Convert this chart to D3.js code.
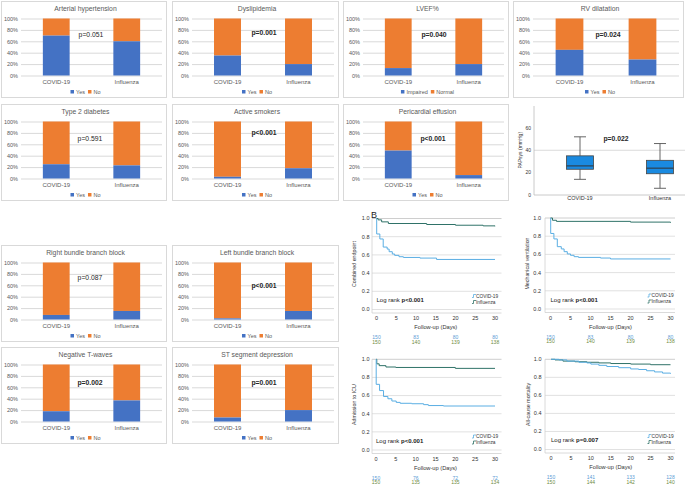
<!DOCTYPE html>
<html><head><meta charset="utf-8">
<script src="https://cdn.jsdelivr.net/npm/d3@7"></script>
<style>
body{margin:0;background:#fff}
svg{display:block}
text{font-family:"Liberation Sans",Arial,sans-serif}
</style>
</head><body>
<svg id="c" width="685" height="487"></svg>
<script>
// ---------------- DATA ----------------
const barCategories = ["COVID-19", "Influenza"];
const barTitles = ["Arterial hypertension","Dyslipidemia","LVEF%","RV dilatation","Type 2 diabetes","Active smokers","Pericardial effusion","Right bundle branch block","Left bundle branch block","Negative T-waves","ST segment depression"];
const yesCovid     = [70, 35, 13, 45, 25, 3, 49, 8, 2, 18, 7];
const yesInfluenza = [60, 20, 20, 28, 23, 18, 6, 15, 15, 37, 20];
const barPValues = ["p=0.051","p=0.001","p=0.040","p=0.024","p=0.591","p<0.001","p<0.001","p=0.087","p<0.001","p=0.002","p=0.001"];
const barPBold   = [false, true, true, true, false, true, true, false, true, true, true];
const legendYes  = ["Yes","Yes","Impaired","Yes","Yes","Yes","Yes","Yes","Yes","Yes","Yes"];
const legendNo   = ["No","No","Normal","No","No","No","No","No","No","No","No"];
const pctTicks = [0, 20, 40, 60, 80, 100];

const boxGroups = ["COVID-19", "Influenza"];
const boxMin = [14, 6];
const boxQ1  = [23, 19];
const boxMed = [26, 24];
const boxQ3  = [35, 31];
const boxMax = [52, 46];
const boxTicks = [0, 20, 40, 60];
const boxYLabel = "PAPsys (mmHg)";
const boxP = "p=0.022";

const kmTitles = ["Combined endpoint","Mechanical ventilation","Admission to ICU","All-cause mortality"];
const kmP = ["p<0.001","p<0.001","p<0.001","p=0.007"];
const kmCovid = [
  [[0,1],[0.05,0.83],[0.85,0.775],[1.7,0.686],[2.7,0.664],[3.2,0.635],[4.0,0.61],[4.6,0.595],[5.7,0.58],[6.8,0.572],[11,0.565],[15.2,0.55],[30,0.55]],
  [[0,1],[0.05,0.83],[0.85,0.77],[1.7,0.685],[2.7,0.66],[3.4,0.63],[4.2,0.605],[5.0,0.59],[5.9,0.575],[7.0,0.567],[12.5,0.56],[15,0.55],[30,0.55]],
  [[0,1],[0.05,0.724],[0.9,0.655],[1.9,0.59],[3.0,0.565],[4.0,0.54],[5.1,0.525],[6.1,0.515],[9,0.51],[12,0.5],[13.2,0.49],[17,0.485],[30,0.485]],
  [[0,1],[2,0.993],[4,0.98],[7,0.967],[9,0.96],[10,0.947],[12,0.933],[14,0.92],[17,0.907],[20,0.893],[22,0.887],[24,0.873],[26,0.86],[28,0.847],[30,0.84]]
];
const kmInfluenza = [
  [[0,1],[0.4,0.985],[1.3,0.963],[3,0.945],[12.7,0.934],[20,0.926],[27,0.919],[30,0.915]],
  [[0,1],[0.5,0.975],[1.5,0.963],[20,0.955],[30,0.948]],
  [[0,1],[0.2,0.95],[0.8,0.93],[2.5,0.915],[5,0.91],[20,0.9],[30,0.9]],
  [[0,1],[1,0.993],[3,0.98],[6,0.973],[9,0.967],[12,0.96],[15,0.953],[20,0.947],[25,0.94],[30,0.94]]
];
const riskTimes = [0, 10, 20, 30];
const riskCovid = [[150,83,80,80],[150,83,80,80],[150,76,72,72],[150,141,133,128]];
const riskInfluenza = [[150,140,139,138],[150,140,139,138],[150,135,135,134],[150,144,142,140]];
const kmTicksX = [0,5,10,15,20,25,30];
const kmTicksY = [0,0.2,0.4,0.6,0.8,1.0];
const kmXLabel = "Follow-up (Days)";
const kmSeries = ["COVID-19","Influenza"];

// ---------------- STYLE / LAYOUT ----------------
const C_BLUE = "#4472C4", C_ORANGE = "#ED7D31", C_GRID = "#d9d9d9", C_TXT = "#595959";
const C_KM_COVID = "#5aaee3", C_KM_FLU = "#2f7268";
const C_RISK1 = "#5b9bd5", C_RISK2 = "#6e8b3d";

const barLayout = [
  {x:1,y:1,w:165,px:90,py:34}, {x:172,y:1,w:166,px:92,py:32}, {x:343,y:1,w:165,px:91,py:34}, {x:513,y:1,w:170,px:95,py:34},
  {x:1,y:104,w:165,px:89,py:35}, {x:172,y:104,w:166,px:92,py:29}, {x:343,y:104,w:165,px:90,py:35},
  {x:1,y:245,w:165,px:89,py:33}, {x:172,y:245,w:166,px:92,py:41},
  {x:1,y:347,w:165,px:89,py:36}, {x:172,y:347,w:166,px:92,py:36}
];
const kmLayout = [
  {xl:376.5, xr:495, yt:218.5, yb:309.5, gl:372, gr:501.5, tickR:369.5, labX:356},
  {xl:550.5, xr:670.5, yt:218, yb:309, gl:545, gr:675, tickR:541, labX:529},
  {xl:376, xr:495, yt:359.3, yb:450, gl:372, gr:501.5, tickR:369.5, labX:356},
  {xl:551, xr:670.5, yt:359.3, yb:449.5, gl:545, gr:675, tickR:541.5, labX:530}
];

const svg = d3.select("#c");

// ---------------- PANEL LETTERS ----------------
svg.append("text").attr("x",3).attr("y",12).attr("font-size",9).attr("fill","#222").text("A");
svg.append("text").attr("x",371).attr("y",218).attr("font-size",9).attr("fill","#222").text("B");

// ---------------- BAR CHARTS ----------------
barTitles.forEach((title, i) => {
  const L = barLayout[i];
  const g = svg.append("g");
  g.append("rect").attr("x",L.x+0.5).attr("y",L.y+0.5).attr("width",L.w).attr("height",96)
    .attr("fill","#fff").attr("stroke",C_GRID).attr("stroke-width",1);
  g.append("text").attr("x",L.x+L.w/2+2).attr("y",L.y+10).attr("text-anchor","middle")
    .attr("font-size",6.8).attr("fill",C_TXT).text(title);
  const y = d3.scaleLinear().domain([0,100]).range([L.y+74.5, L.y+17.5]);
  const x = d3.scaleBand().domain(barCategories).range([L.x+20, L.x+L.w-4]).paddingInner(0.62).paddingOuter(0.31);
  const yAxis = d3.axisLeft(y).tickValues(pctTicks).tickFormat(d => d + "%").tickSize(-(L.w-24)).tickPadding(3);
  const ga = g.append("g").attr("transform",`translate(${L.x+20},0)`).call(yAxis);
  ga.select(".domain").remove();
  ga.selectAll("line").attr("stroke",C_GRID);
  ga.selectAll("text").attr("font-size",5.5).attr("fill",C_TXT).attr("font-family","Liberation Sans, Arial, sans-serif");
  const vals = [yesCovid[i], yesInfluenza[i]];
  barCategories.forEach((c, k) => {
    g.append("rect").attr("x",x(c)).attr("width",x.bandwidth())
      .attr("y",y(100)).attr("height",y(vals[k]) - y(100)).attr("fill",C_ORANGE);
    g.append("rect").attr("x",x(c)).attr("width",x.bandwidth())
      .attr("y",y(vals[k])).attr("height",y(0) - y(vals[k])).attr("fill",C_BLUE);
    g.append("text").attr("x",x(c)+x.bandwidth()/2).attr("y",L.y+83).attr("text-anchor","middle")
      .attr("font-size",6).attr("fill",C_TXT).text(c);
  });
  g.append("text").attr("x",L.x+L.px).attr("y",L.y+L.py+2.3).attr("text-anchor","middle")
    .attr("font-size",6.8).attr("font-weight",barPBold[i]?"bold":"normal").attr("fill","#262626").text(barPValues[i]);
  const lg = g.append("g");
  const ly = L.y+91;
  const t1 = lg.append("text").attr("x",0).attr("y",ly+2).attr("font-size",5.5).attr("fill",C_TXT).text(legendYes[i]);
  const w1 = t1.node().getComputedTextLength();
  const t2 = lg.append("text").attr("font-size",5.5).attr("fill",C_TXT).text(legendNo[i]);
  const w2 = t2.node().getComputedTextLength();
  const total = 4 + 1.5 + w1 + 3 + 4 + 1.5 + w2;
  let lx = L.x + L.w/2 + 2 - total/2;
  lg.append("rect").attr("x",lx).attr("y",ly-2).attr("width",3.5).attr("height",3.5).attr("fill",C_BLUE);
  t1.attr("x",lx+5.5);
  lx += 5.5 + w1 + 3;
  lg.append("rect").attr("x",lx).attr("y",ly-2).attr("width",3.5).attr("height",3.5).attr("fill",C_ORANGE);
  t2.attr("x",lx+5.5).attr("y",ly+2);
});

// ---------------- BOX PLOT ----------------
(function(){
  const g = svg.append("g");
  const y = d3.scaleLinear().domain([0,80]).range([195,105.5]);
  const x = d3.scalePoint().domain(boxGroups).range([540,700]).padding(0.5);
  const axL = 534;
  g.append("line").attr("x1",axL).attr("x2",685).attr("y1",y(40)).attr("y2",y(40)).attr("stroke","#d0d0d0").attr("stroke-width",0.8);
  g.append("line").attr("x1",axL).attr("x2",685).attr("y1",y(0)).attr("y2",y(0)).attr("stroke","#bdbdbd").attr("stroke-width",0.8);
  g.append("line").attr("x1",axL).attr("x2",axL).attr("y1",y(0)).attr("y2",106).attr("stroke","#bdbdbd").attr("stroke-width",0.8);
  boxTicks.forEach(t => {
    g.append("text").attr("x",axL-3).attr("y",y(t)+1.8).attr("text-anchor","end").attr("font-size",5).attr("fill","#333").text(t);
  });
  g.append("text").attr("transform",`translate(522,${y(40)}) rotate(-90)`).attr("text-anchor","middle")
    .attr("font-size",5).attr("fill","#333").text(boxYLabel);
  boxGroups.forEach((grp,k) => {
    const cx = x(grp), bw = 27, cw = 12;
    g.append("line").attr("x1",cx).attr("x2",cx).attr("y1",y(boxMax[k])).attr("y2",y(boxQ3[k])).attr("stroke","#555").attr("stroke-width",0.9);
    g.append("line").attr("x1",cx).attr("x2",cx).attr("y1",y(boxQ1[k])).attr("y2",y(boxMin[k])).attr("stroke","#555").attr("stroke-width",0.9);
    g.append("line").attr("x1",cx-cw/2).attr("x2",cx+cw/2).attr("y1",y(boxMax[k])).attr("y2",y(boxMax[k])).attr("stroke","#555").attr("stroke-width",0.9);
    g.append("line").attr("x1",cx-cw/2).attr("x2",cx+cw/2).attr("y1",y(boxMin[k])).attr("y2",y(boxMin[k])).attr("stroke","#555").attr("stroke-width",0.9);
    g.append("rect").attr("x",cx-bw/2).attr("y",y(boxQ3[k])).attr("width",bw).attr("height",y(boxQ1[k])-y(boxQ3[k]))
      .attr("fill","#1a8ae0").attr("stroke","#444").attr("stroke-width",0.8);
    g.append("line").attr("x1",cx-bw/2).attr("x2",cx+bw/2).attr("y1",y(boxMed[k])).attr("y2",y(boxMed[k])).attr("stroke","#333").attr("stroke-width",1);
    g.append("text").attr("x",cx).attr("y",200).attr("text-anchor","middle").attr("font-size",5.5).attr("fill","#333").text(grp);
  });
  g.append("text").attr("x",616).attr("y",141.3).attr("text-anchor","middle").attr("font-size",6.8).attr("font-weight","bold").attr("fill","#262626").text(boxP);
})();

// ---------------- KAPLAN-MEIER ----------------
kmTitles.forEach((title, i) => {
  const L = kmLayout[i];
  const g = svg.append("g");
  const x = d3.scaleLinear().domain([0,30]).range([L.xl, L.xr]);
  const y = d3.scaleLinear().domain([0,1]).range([L.yb, L.yt]);
  kmTicksY.forEach(t => {
    g.append("line").attr("x1",L.gl).attr("x2",L.gr).attr("y1",y(t)).attr("y2",y(t))
      .attr("stroke", t===1 ? "#c8c8c8" : "#dedede").attr("stroke-width",0.9);
    g.append("text").attr("x",L.tickR).attr("y",y(t)+1.9).attr("text-anchor","end").attr("font-size",5.5).attr("fill","#333").text(d3.format(".1f")(t));
  });
  g.append("line").attr("x1",L.gl).attr("x2",L.gl).attr("y1",L.yt).attr("y2",L.yb+3.5).attr("stroke","#d0d0d0").attr("stroke-width",0.8);
  g.append("line").attr("x1",L.gl).attr("x2",L.gr).attr("y1",L.yb+3.5).attr("y2",L.yb+3.5).attr("stroke","#d0d0d0").attr("stroke-width",0.8);
  kmTicksX.forEach(t => {
    g.append("text").attr("x",x(t)).attr("y",L.yb+10.5).attr("text-anchor","middle").attr("font-size",5.5).attr("fill","#333").text(t);
  });
  g.append("text").attr("x",(L.xl+L.xr)/2).attr("y",L.yb+19.5).attr("text-anchor","middle").attr("font-size",5.7).attr("fill","#333").text(kmXLabel);
  g.append("text").attr("transform",`translate(${L.labX},${(L.yt+L.yb)/2}) rotate(-90)`).attr("text-anchor","middle")
    .attr("font-size",5.3).attr("fill","#333").text(title);
  const line = d3.line().x(d => x(d[0])).y(d => y(d[1])).curve(d3.curveStepAfter);
  g.append("path").attr("d",line(kmInfluenza[i])).attr("fill","none").attr("stroke",C_KM_FLU).attr("stroke-width",1);
  g.append("path").attr("d",line(kmCovid[i])).attr("fill","none").attr("stroke",C_KM_COVID).attr("stroke-width",1);
  const lt = g.append("text").attr("x",L.xl).attr("y",L.yb-7.5).attr("font-size",6).attr("fill","#222");
  lt.append("tspan").text("Log rank ");
  lt.append("tspan").attr("font-weight","bold").text(kmP[i]);
  const lx = L.xr - 23;
  [[C_KM_COVID, kmSeries[0], L.yb-13.5],[C_KM_FLU, kmSeries[1], L.yb-7.5]].forEach(([col, lab, ly]) => {
    g.append("path").attr("d",`M${lx},${ly+1.5}h1.5v-3h2.5`).attr("fill","none").attr("stroke",col).attr("stroke-width",0.8);
    g.append("text").attr("x",lx+4).attr("y",ly+1.8).attr("font-size",4.8).attr("fill","#333").text(lab);
  });
  riskTimes.forEach((t,k) => {
    g.append("text").attr("x",x(t)).attr("y",L.yb+29.5).attr("text-anchor","middle").attr("font-size",5).attr("fill",C_RISK1).text(riskCovid[i][k]);
    g.append("text").attr("x",x(t)).attr("y",L.yb+34).attr("text-anchor","middle").attr("font-size",5).attr("fill",C_RISK2).text(riskInfluenza[i][k]);
  });
});
</script>
</body></html>
